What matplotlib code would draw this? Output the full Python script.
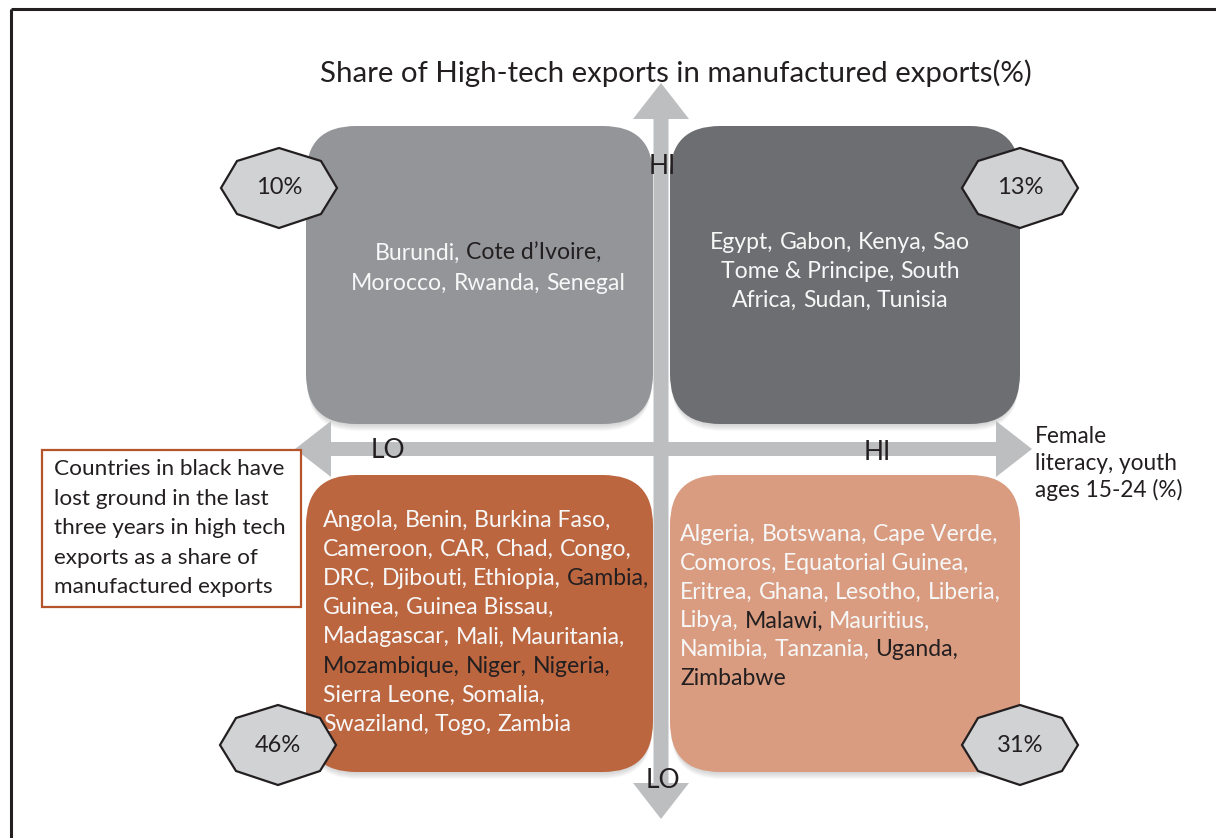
import matplotlib
matplotlib.use("Agg")
import matplotlib.pyplot as plt
from matplotlib.patches import FancyBboxPatch, FancyArrow, Polygon, Rectangle

plt.rcParams['font.family'] = ['Lato', 'DejaVu Sans']

# --- data ---
title = "Share of High-tech exports in manufactured exports(%)"
x_axis_label = ["Female", "literacy, youth", "ages 15-24 (%)"]
note_lines = ["Countries in black have", "lost ground in the last",
              "three years in high tech", "exports as a share of",
              "manufactured exports"]

shares = {"top_left": "10%", "top_right": "13%", "bottom_left": "46%", "bottom_right": "31%"}

top_left_lines = ["Burundi, Cote d’Ivoire,", "Morocco, Rwanda, Senegal"]
top_right_lines = ["Egypt, Gabon, Kenya, Sao", "Tome & Principe, South",
                   "Africa, Sudan, Tunisia"]
bottom_left_lines = ["Angola, Benin, Burkina Faso,", "Cameroon, CAR, Chad, Congo,",
                     "DRC, Djibouti, Ethiopia, Gambia,", "Guinea, Guinea Bissau,",
                     "Madagascar, Mali, Mauritania,", "Mozambique, Niger, Nigeria,",
                     "Sierra Leone, Somalia,", "Swaziland, Togo, Zambia"]
bottom_right_lines = ["Algeria, Botswana, Cape Verde,", "Comoros, Equatorial Guinea,",
                      "Eritrea, Ghana, Lesotho, Liberia,", "Libya, Malawi, Mauritius,",
                      "Namibia, Tanzania, Uganda,", "Zimbabwe"]

lost_ground = ["Cote d’Ivoire", "Gambia", "Mozambique", "Niger", "Nigeria",
               "Malawi", "Uganda", "Zimbabwe"]

# --- colours ---
WHITE = "#f7f7f7"
DARK = "#231f20"
ARROW = "#bcbec0"

fig = plt.figure(figsize=(12.16, 8.38), dpi=100)
ax = fig.add_axes([0, 0, 1, 1])
ax.set_xlim(0, 1216)
ax.set_ylim(838, 0)
ax.axis("off")
renderer = fig.canvas.get_renderer()

# outer frame (top and left edges visible)
ax.plot([11, 1216], [9, 9], color="#231f20", lw=2.2, solid_capstyle="butt")
ax.plot([11, 11], [9, 838], color="#231f20", lw=2.2, solid_capstyle="butt")


def box(x0, y0, x1, y1, color):
    # soft shadow underneath
    for k in range(1, 8):
        ax.add_patch(FancyBboxPatch((x0 + 1, y0 + k), x1 - x0 - 2, y1 - y0,
                                    boxstyle="round,pad=0,rounding_size=50",
                                    fc="#808080", ec="none", alpha=0.05, zorder=1))
    ax.add_patch(FancyBboxPatch((x0, y0), x1 - x0, y1 - y0,
                                boxstyle="round,pad=0,rounding_size=50",
                                fc=color, ec="none", zorder=2))


box(306, 126, 653, 424, "#939598")
box(670, 126, 1020, 424, "#6d6e71")
box(306, 475, 653, 772, "#bc6640")
box(670, 475, 1020, 772, "#d99c80")

# axes arrows
cx, cy = 661, 449
for dx, dy, w in [(0, 83 - cy, 15), (0, 819 - cy, 15), (295 - cx, 0, 14), (1032 - cx, 0, 14)]:
    ax.add_patch(FancyArrow(cx, cy, dx, dy, width=w, head_width=56, head_length=36,
                            length_includes_head=True, fc=ARROW, ec="none", zorder=3))

ax.text(662, 166, "HI", fontsize=19, color=DARK, ha="center", va="center", zorder=5)
ax.text(663, 780, "LO", fontsize=19, color=DARK, ha="center", va="center", zorder=5)
ax.text(388, 450, "LO", fontsize=19, color=DARK, ha="center", va="center", zorder=5)
ax.text(877, 452, "HI", fontsize=19, color=DARK, ha="center", va="center", zorder=5)

ax.text(676, 73, title, fontsize=21.2, color=DARK, ha="center", va="center")

for i, s in enumerate(x_axis_label):
    ax.text(1035, 443 + i * 27, s, fontsize=16.3, color=DARK, ha="left", va="baseline")

# note box
ax.add_patch(Rectangle((42, 450), 259, 157, fc="white", ec="#b5532a", lw=1.6, zorder=4))
for i, s in enumerate(note_lines):
    ax.text(54, 475 + i * 29.5, s, fontsize=16.2, color=DARK, ha="left",
            va="baseline", zorder=5)


def text_width(s, size):
    t = ax.text(0, 0, s, fontsize=size)
    w = t.get_window_extent(renderer).width
    t.remove()
    return w


def rich_line(x, y, line, ha="left", size=16.6):
    parts = line.split(", ")
    x0 = x - text_width(line, size) / 2 if ha == "center" else x
    start = 0
    for i, p in enumerate(parts):
        s = p + ("," if i < len(parts) - 1 else "")
        # ink position of this piece inside the full line
        off = 0 if start == 0 else text_width(line[:start] + s[0], size) - text_width(s[0], size)
        col = DARK if p.rstrip(",") in lost_ground else WHITE
        ax.text(x0 + off, y, s, fontsize=size, color=col, ha="left",
                va="baseline", zorder=5)
        start += len(s) + 1


for i, line in enumerate(top_left_lines):
    rich_line(488, 260 + i * 30, line, ha="center")
for i, line in enumerate(top_right_lines):
    rich_line(840, 249 + i * 29, line, ha="center")
for i, line in enumerate(bottom_left_lines):
    rich_line(323, 527 + i * 29.1, line)
for i, line in enumerate(bottom_right_lines):
    rich_line(680, 541 + i * 28.8, line)

# octagon badges
octa = [(0, -40), (42, -27), (58, 0), (42, 26), (0, 40), (-42, 26), (-58, 0), (-42, -27)]
badge_pos = {"top_left": (279, 188), "top_right": (1020, 188),
             "bottom_left": (278, 745), "bottom_right": (1020, 745)}
for key, (bx, by) in badge_pos.items():
    ax.add_patch(Polygon([(bx + u, by + v) for u, v in octa], closed=True,
                         fc="#d1d2d4", ec=DARK, lw=1.6, zorder=6))
    ax.text(bx, by, shares[key], fontsize=17, color=DARK, ha="center",
            va="center", zorder=7)

fig.savefig("out.png", dpi=100)
